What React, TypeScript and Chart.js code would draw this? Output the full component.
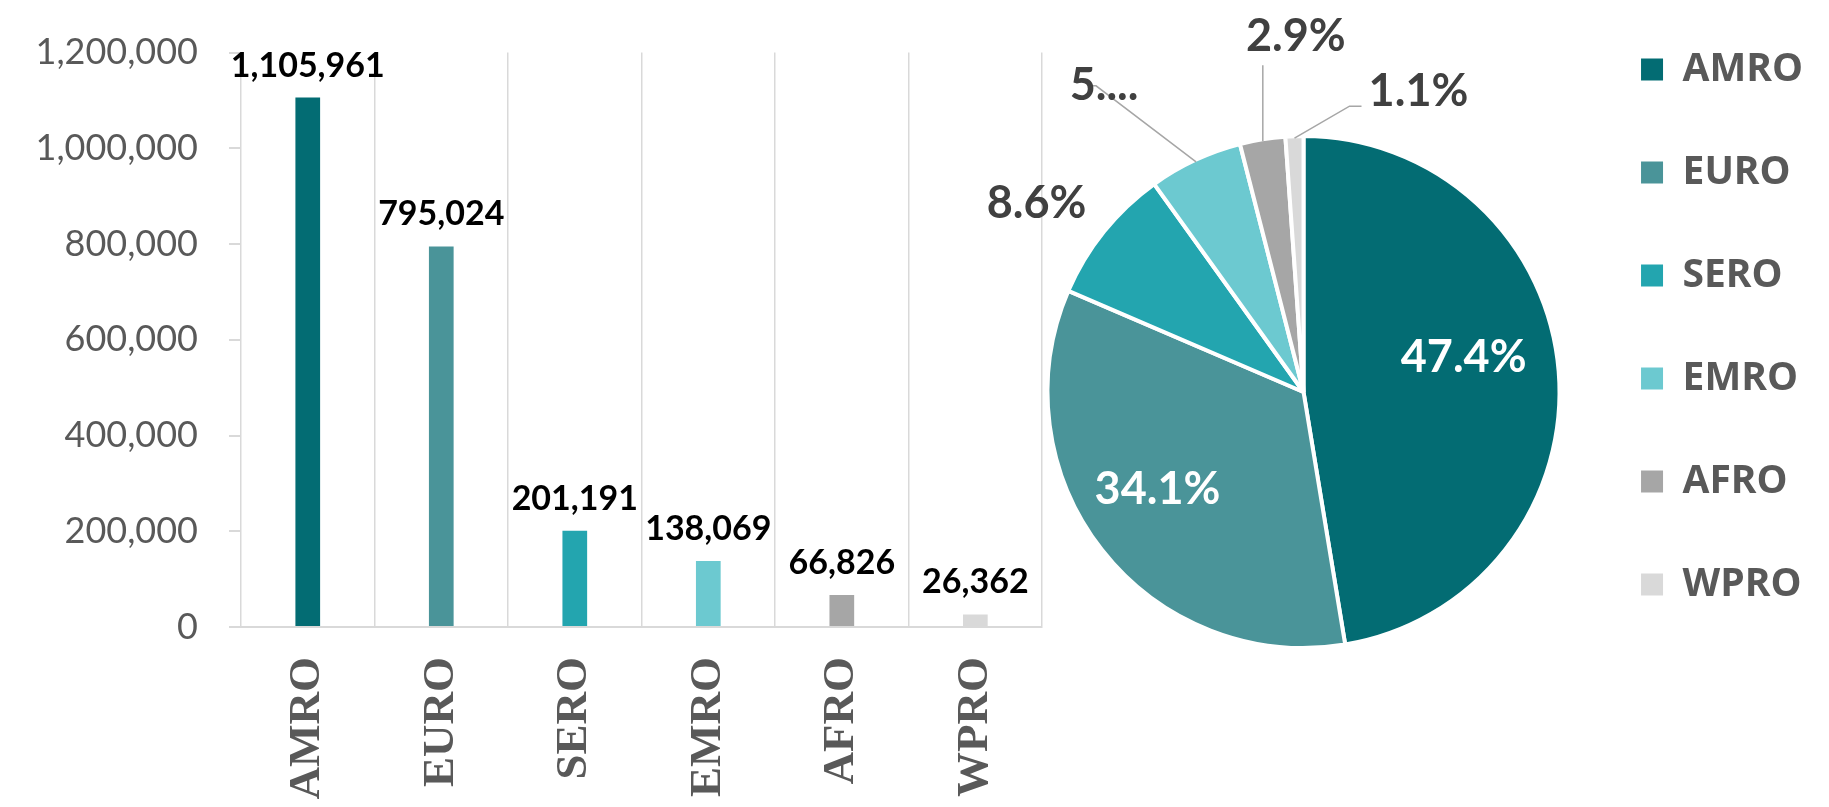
import React, { useEffect, useRef } from 'react';
import { Chart, registerables } from 'chart.js';

Chart.register(...registerables);

// ---- data ----
const categories = ['AMRO', 'EURO', 'SERO', 'EMRO', 'AFRO', 'WPRO'];
const caseCounts = [1105961, 795024, 201191, 138069, 66826, 26362];
const regionColors = ['#036c73', '#4a9499', '#23a5af', '#6cc9d0', '#a6a6a6', '#d9d9d9'];
const yTickValues = [0, 200000, 400000, 600000, 800000, 1000000, 1200000];

// ---- pie label styling (offsets from the slice's outer mid point) ----
const pieLabelStyle = [
  { inside: true, dx: -93, dy: -15 },
  { inside: true, dx: 54, dy: -61 },
  { inside: false, dx: -69, dy: -31 },
  { inside: false, dx: -92, dy: -78, truncate: true, leader: [[0, 0], [-100, -76], [-105, -76]] },
  { inside: false, dx: 33, dy: -106, leader: [[0, 0], [0, -76]] },
  { inside: false, dx: 124, dy: -48, leader: [[0, 0], [55, -32], [67, -32]] },
];

const fmt = (v: number) => Number(v).toLocaleString('en-US');

const barLabelPlugin = {
  id: 'barLabels',
  afterDatasetsDraw(chart: any) {
    const ctx = chart.ctx;
    const meta = chart.getDatasetMeta(0);
    ctx.save();
    ctx.font = 'bold 34px Lato';
    ctx.fillStyle = '#000000';
    ctx.textAlign = 'center';
    ctx.textBaseline = 'alphabetic';
    meta.data.forEach((bar: any, i: number) => {
      ctx.fillText(fmt(caseCounts[i]), bar.x, bar.y - 21);
    });
    ctx.restore();
  },
};

const pieLabelPlugin = {
  id: 'pieLabels',
  afterDatasetsDraw(chart: any) {
    const ctx = chart.ctx;
    const meta = chart.getDatasetMeta(0);
    const total = caseCounts.reduce((a, b) => a + b, 0);
    ctx.save();
    meta.data.forEach((arc: any, i: number) => {
      const { x, y, startAngle, endAngle, outerRadius } = arc;
      const mid = (startAngle + endAngle) / 2;
      const R = outerRadius - 2;
      const px = x + Math.cos(mid) * R;
      const py = y + Math.sin(mid) * R;
      const st: any = pieLabelStyle[i];
      if (st.leader) {
        ctx.beginPath();
        ctx.strokeStyle = '#a6a6a6';
        ctx.lineWidth = 1.5;
        st.leader.forEach((p: number[], k: number) => {
          if (k === 0) ctx.moveTo(px + p[0], py + p[1]);
          else ctx.lineTo(px + p[0], py + p[1]);
        });
        ctx.stroke();
      }
      let text = ((caseCounts[i] / total) * 100).toFixed(1) + '%';
      if (st.truncate) text = text.charAt(0) + '....';
      ctx.font = 'bold 45px Lato';
      ctx.fillStyle = st.inside ? '#ffffff' : '#404040';
      ctx.textAlign = 'center';
      ctx.textBaseline = 'alphabetic';
      ctx.fillText(text, px + st.dx, py + st.dy + 16);
    });
    ctx.restore();
  },
};

export default function App() {
  const barRef = useRef<HTMLCanvasElement>(null);
  const pieRef = useRef<HTMLCanvasElement>(null);

  useEffect(() => {
    document.body.style.margin = '0';
    document.body.style.overflow = 'hidden';

    const bar = new Chart(barRef.current as HTMLCanvasElement, {
      type: 'bar',
      data: {
        labels: categories,
        datasets: [
          {
            data: caseCounts,
            backgroundColor: regionColors,
            barPercentage: 0.185,
            categoryPercentage: 1,
          },
        ],
      },
      options: {
        animation: false,
        responsive: false,
        layout: { padding: { top: 45, right: 8, left: 0, bottom: 0 } },
        plugins: { legend: { display: false }, tooltip: { enabled: false } },
        scales: {
          x: {
            grid: { display: true, offset: true, drawTicks: false, color: '#d9d9d9', lineWidth: 1.5 },
            border: { display: true, color: '#d9d9d9', width: 2 },
            ticks: {
              autoSkip: false,
              minRotation: 90,
              maxRotation: 90,
              padding: 30,
              color: '#595959',
              font: { family: 'Liberation Serif', size: 45, weight: 'bold' },
            },
            afterFit: (s: any) => {
              s.height = 180;
            },
          },
          y: {
            min: 0,
            max: 1200000,
            afterBuildTicks: (s: any) => {
              s.ticks = yTickValues.map((v) => ({ value: v }));
            },
            grid: { drawOnChartArea: false, drawTicks: true, tickLength: 12, color: '#d9d9d9', lineWidth: 2 },
            border: { display: false },
            ticks: {
              padding: 31,
              color: '#595959',
              font: { family: 'Lato', size: 36 },
              callback: (v: any) => fmt(v),
            },
            afterFit: (s: any) => {
              s.width = 241;
            },
          },
        },
      },
      plugins: [barLabelPlugin],
    } as any);

    const baseGen =
      (Chart as any).overrides?.pie?.plugins?.legend?.labels?.generateLabels ||
      (Chart as any).overrides.doughnut.plugins.legend.labels.generateLabels;

    const pie = new Chart(pieRef.current as HTMLCanvasElement, {
      type: 'pie',
      data: {
        labels: categories,
        datasets: [
          {
            data: caseCounts,
            backgroundColor: regionColors,
            borderColor: '#ffffff',
            borderWidth: 4,
            radius: 256,
          },
        ],
      },
      options: {
        animation: false,
        responsive: false,
        layout: { padding: { left: 70, right: 16, top: 0, bottom: 0 } },
        plugins: {
          tooltip: { enabled: false },
          legend: {
            position: 'right',
            align: 'start',
            labels: {
              boxWidth: 22,
              boxHeight: 22,
              padding: 64,
              color: '#595959',
              font: { family: 'Open Sans', size: 39, weight: 'bold' },
              generateLabels: (chart: any) =>
                baseGen(chart).map((l: any) => ({ ...l, lineWidth: 0, strokeStyle: 'rgba(0,0,0,0)' })),
            },
          },
        },
      },
      plugins: [pieLabelPlugin],
    } as any);

    return () => {
      bar.destroy();
      pie.destroy();
    };
  }, []);

  return (
    <div style={{ position: 'relative', width: 1829, height: 807, overflow: 'hidden', background: '#ffffff' }}>
      <canvas
        ref={barRef}
        width={1060}
        height={807}
        style={{ position: 'absolute', left: 0, top: 0, width: 1060, height: 807 }}
      />
      <canvas
        ref={pieRef}
        width={869}
        height={812}
        style={{ position: 'absolute', left: 960, top: -14, width: 869, height: 812 }}
      />
    </div>
  );
}
